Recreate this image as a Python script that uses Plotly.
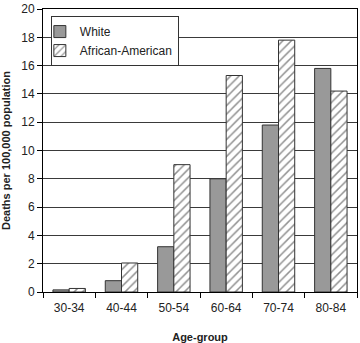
import plotly.graph_objects as go

categories = ["30-34", "40-44", "50-54", "60-64", "70-74", "80-84"]
white = [0.15, 0.8, 3.2, 8.0, 11.8, 15.8]
african_american = [0.25, 2.05, 9.0, 15.3, 17.8, 14.2]

fig = go.Figure()
fig.add_trace(go.Bar(
    x=categories, y=white, name="White",
    marker=dict(color="#999999", line=dict(color="#333333", width=1)),
))
fig.add_trace(go.Bar(
    x=categories, y=african_american, name="African-American",
    marker=dict(color="white", line=dict(color="#333333", width=1),
                pattern=dict(shape="/", fgcolor="#222222", bgcolor="white",
                             size=6, solidity=0.25)),
))

font_family = "Liberation Sans, Arial, sans-serif"
fig.update_layout(
    width=360, height=343,
    margin=dict(l=43, r=2, t=7, b=51),
    paper_bgcolor="white", plot_bgcolor="white",
    barmode="group", bargap=0.38, bargroupgap=0,
    font=dict(family=font_family, size=12, color="#222222"),
    showlegend=True,
    legend=dict(x=0.025, y=0.975, xanchor="left", yanchor="top",
                bgcolor="white", bordercolor="#333333", borderwidth=1,
                font=dict(size=12), tracegroupgap=0, itemwidth=30,
                indentation=-12),
    xaxis=dict(
        title=dict(text="<b>Age-group</b>", font=dict(size=11), standoff=18),
        showline=True, linecolor="black", linewidth=1, mirror=True,
        ticks="outside", tickson="boundaries", ticklen=5, tickcolor="black",
        ticklabelstandoff=5,
        showgrid=False,
    ),
    yaxis=dict(
        title=dict(text="<b>Deaths per 100,000 population</b>", font=dict(size=11), standoff=8),
        range=[0, 20], dtick=2, tick0=0,
        showline=True, linecolor="black", linewidth=1, mirror=True,
        ticks="outside", ticklen=5, tickcolor="black",
        showgrid=True, gridcolor="#3a3a3a", gridwidth=1,
        zeroline=False,
    ),
)

fig.write_html("out.html")
